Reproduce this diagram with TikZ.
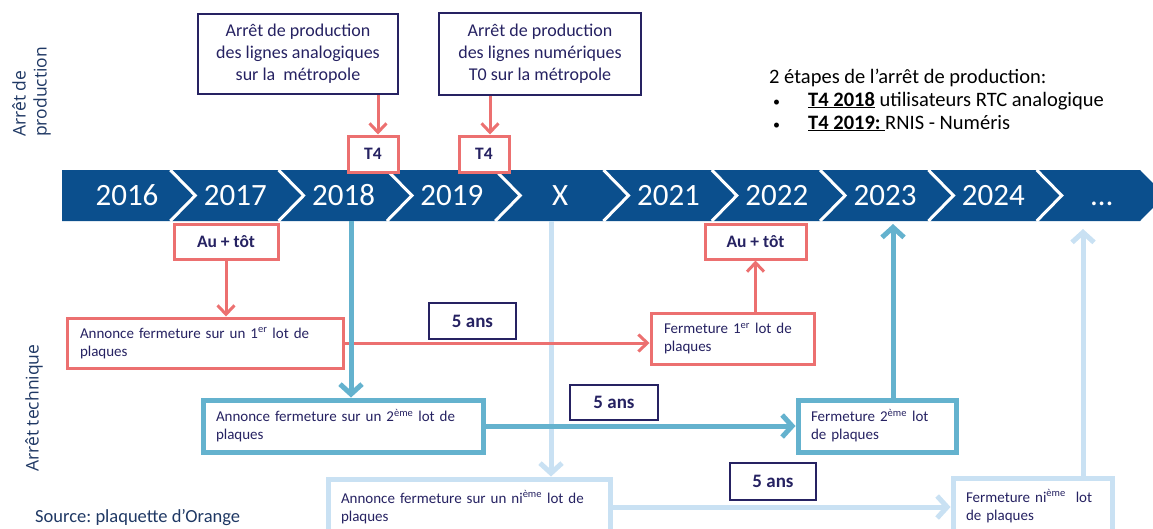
\documentclass[tikz,border=0pt]{standalone}
\usepackage{fontspec}
\setmainfont{Carlito}
\newfontfamily\sidefont{Open Sans}
\usetikzlibrary{arrows.meta,shadows}
\frenchspacing
\definecolor{banner}{RGB}{11,79,141}
\definecolor{salmon}{RGB}{236,112,112}
\definecolor{midblue}{RGB}{100,178,206}
\definecolor{paleblue}{RGB}{201,225,243}
\definecolor{navy}{RGB}{38,34,98}
\definecolor{sideblue}{RGB}{31,56,100}
\begin{document}
\begin{tikzpicture}[x=1pt,y=-1pt]
\tikzset{prodbox/.style = {shape=rectangle,draw=navy,line width=1.5pt,fill=white,text=navy,align=center,font=\fontsize{18}{22}\selectfont}}
\tikzset{tag/.style = {shape=rectangle,draw=salmon,line width=3pt,fill=white,text=navy,font=\fontsize{17.5}{20}\selectfont\bfseries}}
\tikzset{ansbox/.style = {shape=rectangle,draw=navy,line width=1.5pt,fill=white,text=navy,font=\fontsize{19}{22}\selectfont\bfseries}}
\tikzset{lotbox/.style = {shape=rectangle,fill=white,text=navy,align=left,inner xsep=13pt,font=\fontsize{15}{18}\selectfont}}
\tikzset{redbox/.style = {lotbox,draw=salmon,line width=3pt}}
\tikzset{bluebox/.style = {lotbox,draw=midblue,line width=5pt,drop shadow={opacity=0.25,shadow xshift=1.5pt,shadow yshift=-2pt}}}
\tikzset{palebox/.style = {lotbox,draw=paleblue,line width=5pt,drop shadow={opacity=0.2,shadow xshift=1.5pt,shadow yshift=-2pt}}}
\tikzset{year/.style = {anchor=base,text=white,inner sep=0,font=\fontsize{31}{34}\selectfont}}
\tikzset{side/.style = {rotate=90,inner sep=0,align=left,text=sideblue,font=\sidefont\fontsize{17.5}{21}\selectfont}}
\tikzset{note/.style = {anchor=base west,inner sep=0,font=\fontsize{20.5}{24}\selectfont}}
\tikzset{redline/.style = {draw=salmon,line width=3pt,-{Straight Barb[length=9pt,width=17pt]}}}
\tikzset{blueline/.style = {draw=midblue,line width=5pt,-{Straight Barb[length=10pt,width=22pt]}}}
\tikzset{paleline/.style = {draw=paleblue,line width=5pt,-{Straight Barb[length=10pt,width=22pt]}}}
\newcommand{\smallbullet}{\makebox[35pt][l]{\fontsize{14}{14}\selectfont\textbullet}}
\useasboundingbox (0,0) rectangle (1153,528);
% banner
\fill[banner] (62,170) -- (1140,170) -- (1165,195.5) -- (1140,221) -- (62,221) -- cycle;
\foreach \i in {1,...,9}
  \draw[white,line width=3pt] ({62+108.3*\i},170) -- ({87+108.3*\i},195.5) -- ({62+108.3*\i},221);
\foreach \lab [count=\i from 0] in {2016,2017,2018,2019,X,2021,2022,2023,2024,\dots}
  \node[year] (y\i) at ({127+108.3*\i},205) {\lab};
\coordinate (b18) at (351,221);
\coordinate (bx) at (551,221);
\coordinate (t23) at (893,224);
\coordinate (tn) at (1083,229);

% side texts
\node[side,anchor=south west] (ap) at (51,137) {Arrêt de\\production};
\node[side] (atech) at (34,408) {Arrêt technique};
\node[anchor=base west,inner sep=0,text=sideblue,font=\fontsize{18.5}{20}\selectfont] (src) at (35,522) {Source: plaquette d’Orange};
\node[note] (st) at (769,83) {2 étapes de l’arrêt de production:};
\node[note] (sa) at (773,106) {\smallbullet\underline{\textbf{T4 2018}} utilisateurs RTC analogique};
\node[note] (sb) at (773,129) {\smallbullet\underline{\textbf{T4 2019:}\ }RNIS - Numéris};

% production
\node[prodbox,minimum width=200pt,minimum height=80pt] (pa) at (298,54) {Arrêt de production\\des lignes analogiques\\sur la~ métropole};
\node[prodbox,minimum width=202pt,minimum height=82pt] (pn) at (540,54) {Arrêt de production\\des lignes numériques\\T0 sur la métropole};
\node[tag,minimum width=50pt,minimum height=36pt] (ta) at (373,154) {T4};
\node[tag,minimum width=50pt,minimum height=36pt] (tb) at (484,154) {T4};
\coordinate (ka) at ([xshift=5pt]ta.north);
\coordinate (kb) at ([xshift=6pt]tb.north);

% lots
\node[tag,minimum width=104pt,minimum height=35pt] (au1) at (226,241.5) {Au + tôt};
\node[tag,minimum width=101pt,minimum height=35pt] (au2) at (755.5,241.5) {Au + tôt};
\node[redbox,text width=250pt,minimum height=50pt] (a1) at (205,343) {Annonce fermeture sur un 1\textsuperscript{er} lot de\\plaques};
\node[redbox,text width=137pt,minimum height=51pt] (f1) at (732.5,338.5) {Fermeture 1\textsuperscript{er} lot de\\plaques};
\node[bluebox,text width=254pt,minimum height=52pt] (a2) at (343,426) {Annonce fermeture sur un 2\textsuperscript{ème} lot de\\plaques};
\node[bluebox,text width=132pt,minimum height=52pt] (f2) at (877,426) {Fermeture 2\textsuperscript{ème} lot\\de plaques};
\node[palebox,text width=256pt,minimum height=56pt] (an) at (469,507) {Annonce fermeture sur un ni\textsuperscript{ème} lot de\\plaques};
\node[palebox,text width=133pt,minimum height=56pt] (fn) at (1032.5,506) {Fermeture ni\textsuperscript{ème}~ lot\\de plaques};
\node[ansbox,minimum width=87pt,minimum height=36pt] (s1) at (472.5,321) {5 ans};
\node[ansbox,minimum width=88pt,minimum height=35pt] (s2) at (614,402.5) {5 ans};
\node[ansbox,minimum width=86pt,minimum height=37pt] (s3) at (773,481.5) {5 ans};

%arrows
\draw[paleline] (bx) -- (bx |- an.north);
\draw[paleline] (an.east) -- (an.east -| fn.west);
\draw[paleline] (tn |- fn.north) -- (tn);
\draw[redline] (ka |- pa.south) -- (ka);
\draw[redline] (kb |- pn.south) -- (kb);
\draw[redline] (au1) -- (au1 |- a1.north);
\draw[redline] (a1.east) -- (a1.east -| f1.west);
\draw[redline] (au2 |- f1.north) -- (au2.south);
\draw[blueline] (b18) -- (b18 |- a2.north);
\draw[blueline] (a2.east) -- (f2.west);
\draw[blueline] (t23 |- f2.north) -- (t23);
\end{tikzpicture}
\end{document}
